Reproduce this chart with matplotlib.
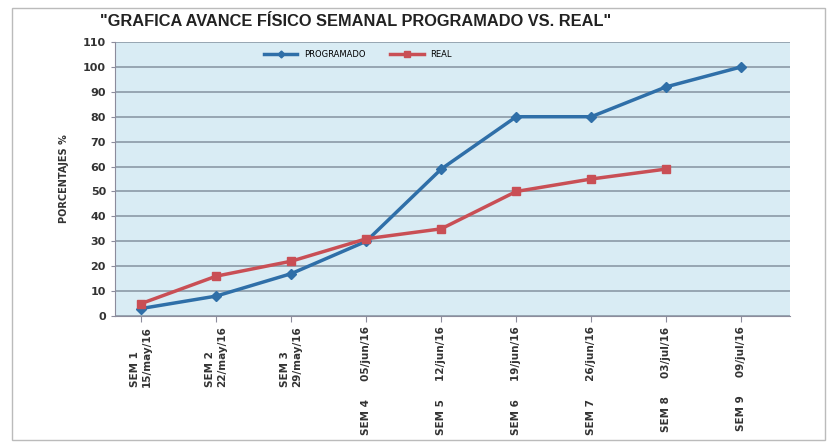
import numpy as np
import matplotlib.pyplot as plt
from matplotlib.patches import Rectangle

# datos
semanas = ['SEM 1\n15/may/16', 'SEM 2\n22/may/16', 'SEM 3\n29/may/16',
           'SEM 4     05/jun/16', 'SEM 5     12/jun/16', 'SEM 6     19/jun/16',
           'SEM 7     26/jun/16', 'SEM 8     03/jul/16', 'SEM 9     09/jul/16']
programado = [3, 8, 17, 30, 59, 80, 80, 92, 100]
real = [5, 16, 22, 31, 35, 50, 55, 59]

fig = plt.figure(figsize=(8.32, 4.47), dpi=100)
fig.patches.append(Rectangle((12/832, 1-440/447), 813/832, 432/447, transform=fig.transFigure,
                             fill=False, edgecolor='#bbbbbb', linewidth=1.0))

ax = fig.add_axes([115/832, 1-316/447, 675/832, 274/447])
ax.set_facecolor('#d9ecf4')

x = np.arange(len(semanas))
ax.plot(x, programado, color='#2f6fa8', marker='D', markersize=5, linewidth=2.5, label='PROGRAMADO')
ax.plot(x[:len(real)], real, color='#c94f55', marker='s', markersize=6, linewidth=2.5, label='REAL')

ax.set_ylim(0, 110)
ax.set_yticks(range(0, 111, 10))
ax.set_xlim(-0.35, 8.65)
ax.set_xticks(x)
ax.set_xticklabels(semanas, rotation=90, fontsize=7.5, fontweight='bold', color='#333333',
                   va='top', ha='center', multialignment='left')
for lbl in ax.get_yticklabels():
    lbl.set_fontweight('bold')
    lbl.set_fontsize(8)
    lbl.set_color('#333333')
ax.grid(axis='y', color='#8c9aa6', linewidth=1.2)
ax.set_axisbelow(True)
for s in ['top', 'right']:
    ax.spines[s].set_visible(False)
ax.spines['left'].set_color('#8c8c9c')
ax.spines['bottom'].set_color('#8c8c9c')
ax.tick_params(axis='x', length=4, color='#8c8c9c')
ax.tick_params(axis='y', length=3, color='#8c8c9c')
ax.set_ylabel('PORCENTAJES %', fontsize=7, fontweight='bold', color='#333333', labelpad=10)

ax.legend(loc='upper center', bbox_to_anchor=(0.36, 1.0), ncol=2, frameon=False,
          fontsize=6, handlelength=4, columnspacing=3, markerscale=0.7)

fig.text(100/832, 1-22/447, '"GRAFICA AVANCE FÍSICO SEMANAL PROGRAMADO VS. REAL"',
         fontsize=11.8, fontweight='bold', family='Liberation Sans', va='center', ha='left', color='#222222')

fig.savefig('out.png', dpi=100)
